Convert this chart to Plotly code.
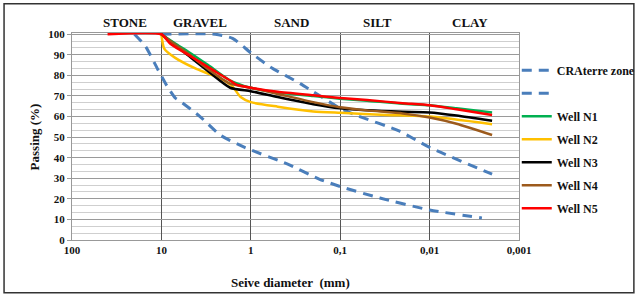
import plotly.graph_objects as go

# ---- data (sieve diameter mm, passing %) ----
cra_upper_d = [10, 2.5, 1.6, 1, 0.6, 0.28, 0.1, 0.065, 0.022, 0.01, 0.002]
cra_upper_p = [100, 100, 98, 91, 84, 76, 64, 60.5, 53, 45, 32]
cra_lower_d = [20, 15, 11, 8.7, 7, 6.2, 3.7, 2.2, 1.17, 0.37, 0.17, 0.1, 0.036, 0.01, 0.0026]
cra_lower_p = [100, 94, 83, 75, 69, 67.5, 60, 51, 45, 36.5, 29.5, 26, 20.4, 14.6, 10.7]

well_d = [10, 7, 5, 3, 1.7, 1, 0.5, 0.2, 0.1, 0.05, 0.02, 0.01, 0.005, 0.002]
well1_p = [100, 95.5, 91.5, 85, 77.5, 74, 71.7, 70, 68.7, 67.7, 66.2, 65.5, 64, 62]
well3_p = [100, 94.6, 89.6, 82, 74, 72.3, 69.5, 66, 64, 63, 62.3, 62, 60.5, 58]
well4_p = [100, 95, 90.5, 83, 76, 74, 71, 67, 64.5, 63, 61.5, 59.5, 56.5, 51]
well2_d = [10, 9.3, 7, 4, 2.2, 1.6, 1.3, 1, 0.5, 0.2, 0.1, 0.03, 0.01, 0.002]
well2_p = [100, 93, 88.5, 83, 78.5, 74.5, 69.5, 67, 64.8, 62.5, 61.8, 60.8, 60, 56.3]
well5_d = [40, 10, 8, 6, 5, 3, 1.7, 1.45, 1, 0.5, 0.2, 0.1, 0.05, 0.02, 0.01, 0.005, 0.002]
well5_p = [100, 100, 95.5, 92, 90, 84, 77.5, 75.5, 74, 72, 70.3, 69, 68, 66.5, 65.5, 63.5, 60.7]

x_tickvals = [100, 10, 1, 0.1, 0.01, 0.001]
x_ticktext = ["100", "10", "1", "0,1", "0,01", "0,001"]
y_tickvals = list(range(0, 101, 10))
zones = ["STONE", "GRAVEL", "SAND", "SILT", "CLAY"]
zone_pos = [1.41, 0.57, -0.45, -1.42, -2.45]  # log10 positions

FONT = "Liberation Serif"
BLUE = "#4a7ebb"

fig = go.Figure()
fig.add_trace(go.Scatter(x=cra_upper_d, y=cra_upper_p, mode="lines", name="CRAterre zone",
                         line=dict(color=BLUE, width=3, dash="10px,7px", shape="spline", smoothing=0.6),
                         legendgroup="a"))
fig.add_trace(go.Scatter(x=cra_lower_d, y=cra_lower_p, mode="lines", name=" ",
                         line=dict(color=BLUE, width=3, dash="10px,7px", shape="spline", smoothing=0.6),
                         legendgroup="b"))
wells = [
    ("Well N1", well_d, well1_p, "#00b050"),
    ("Well N2", well2_d, well2_p, "#ffc000"),
    ("Well N3", well_d, well3_p, "#000000"),
    ("Well N4", well_d, well4_p, "#9c5a1c"),
    ("Well N5", well5_d, well5_p, "#ff0000"),
]
for i, (name, d, p, c) in enumerate(wells):
    fig.add_trace(go.Scatter(x=d, y=p, mode="lines", name=name,
                             line=dict(color=c, width=2.5, shape="spline", smoothing=0.6),
                             legendgroup="w%d" % i))

# zone labels
for z, xp in zip(zones, zone_pos):
    fig.add_annotation(x=xp, y=1.053, xref="x", yref="paper", text=z, showarrow=False,
                       xanchor="center", yanchor="middle",
                       font=dict(family=FONT, size=13, color="#111", weight="bold"))

fig.add_annotation(x=0.488, y=-0.205, xref="paper", yref="paper", xanchor="center", yanchor="middle",
                   text="Seive diameter\u00a0 (mm)", showarrow=False,
                   font=dict(family=FONT, size=13, color="#111", weight="bold"))
fig.add_annotation(x=-0.083, y=0.5, xref="paper", yref="paper", textangle=-90,
                   xanchor="center", yanchor="middle",
                   text="Passing (%)", showarrow=False,
                   font=dict(family=FONT, size=13, color="#111", weight="bold"))

# outer frame
fig.add_shape(type="rect", xref="paper", yref="paper",
              x0=-0.152, x1=1.257, y0=-0.255, y1=1.141,
              line=dict(color="#333", width=1.5), fillcolor="rgba(0,0,0,0)")

fig.update_xaxes(type="log", range=[2, -3], tickvals=x_tickvals, ticktext=x_ticktext,
                 showgrid=True, gridcolor="#555", gridwidth=1,
                 showline=True, linecolor="#999", mirror=True, zeroline=False,
                 ticks="", tickfont=dict(family=FONT, size=11, color="#111", weight="bold"))
fig.update_yaxes(range=[0, 100.6], tickvals=y_tickvals,
                 showgrid=True, gridcolor="#9a9a9a", gridwidth=1,
                 minor=dict(dtick=10/3, showgrid=True, gridcolor="#cfcfcf", gridwidth=1),
                 showline=True, linecolor="#999", mirror=True, zeroline=False,
                 ticks="outside", ticklen=4, tickcolor="#999",
                 tickfont=dict(family=FONT, size=11, color="#111", weight="bold"))

fig.update_layout(
    width=638, height=298,
    margin=dict(l=72, r=119, t=33, b=58, autoexpand=False),
    paper_bgcolor="white", plot_bgcolor="white",
    showlegend=True,
    legend=dict(x=0.995, y=0.89, xanchor="left", yanchor="top",
                font=dict(family=FONT, size=12, color="#111", weight="bold"),
                tracegroupgap=4, itemwidth=30, bgcolor="rgba(0,0,0,0)"),
)

fig.write_html("out.html", config={"displayModeBar": False},
               post_script="document.body.style.margin='0';document.body.style.overflow='hidden';")
